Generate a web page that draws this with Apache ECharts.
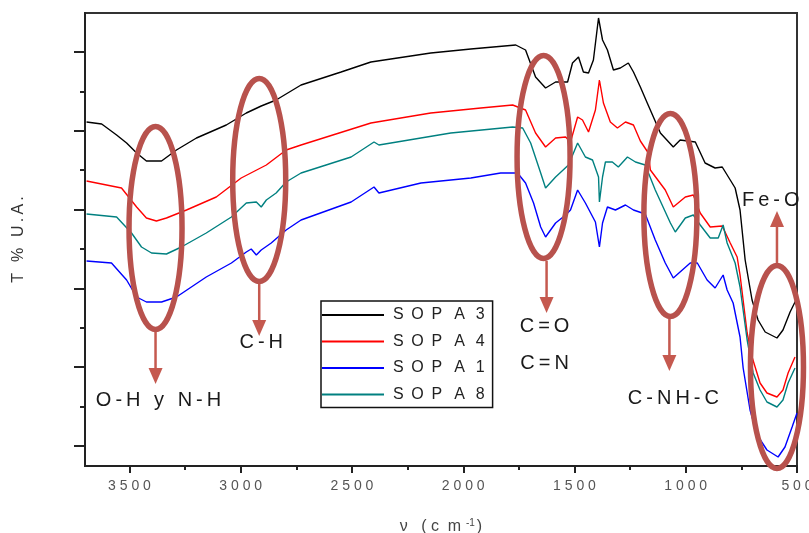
<!DOCTYPE html>
<html>
<head>
<meta charset="utf-8">
<script src="https://cdn.jsdelivr.net/npm/echarts@6/dist/echarts.min.js"></script>
<style>
html,body{margin:0;padding:0;background:#fff;}
#c{width:809px;height:533px;}
</style>
</head>
<body>
<div id="c"></div>
<script>
// ---- Data (wavenumber cm^-1, transmittance in arbitrary units) ----
const sopa3Wn = [3693,3625,3558,3513,3468,3424,3356,3289,3199,3065,2975,2908,2841,2729,2549,2415,2146,1966,1764,1720,1675,1630,1585,1531,1509,1482,1460,1437,1415,1397,1392,1374,1352,1325,1294,1258,1235,1204,1173,1114,1056,1025,957,913,868,836,800,778,756,733,702,675,643,590,563,531,500];
const sopa3T  = [344,342,331,323,313,305,305,316,328,341,353,360,366,381,394,404,413,417,421,416,389,378,384,384,403,409,394,393,406,439,448,426,416,396,398,403,394,379,363,333,319,326,324,303,298,299,286,278,256,206,166,146,134,128,136,154,168];

const sopa4Wn = [3693,3536,3468,3424,3379,3334,3244,3110,2998,2885,2796,2729,2415,2146,1921,1778,1720,1675,1630,1585,1540,1518,1486,1464,1437,1406,1388,1370,1339,1307,1271,1235,1204,1168,1159,1092,1056,1002,966,935,890,836,800,769,756,724,702,666,635,590,563,540,509];
const sopa4T  = [285,278,259,248,245,248,256,269,288,301,316,321,343,353,358,361,356,333,319,328,329,324,349,346,334,356,386,363,344,338,344,341,325,313,296,276,259,269,271,253,239,240,223,209,191,133,109,83,73,69,76,93,109];

const sopa1Wn = [3693,3581,3513,3468,3424,3356,3289,3155,3042,2975,2953,2930,2908,2863,2796,2729,2504,2401,2379,2190,1966,1832,1756,1720,1684,1652,1630,1585,1540,1518,1486,1451,1406,1388,1374,1352,1316,1271,1235,1182,1137,1092,1056,980,948,904,868,832,814,787,756,742,711,679,635,585,554,522,500];
const sopa1T  = [205,203,186,169,164,164,169,189,203,214,217,211,216,223,236,246,264,279,273,283,288,293,293,283,263,239,229,243,251,256,276,263,244,219,243,259,256,261,256,252,226,203,188,203,203,186,178,191,176,163,129,98,56,31,16,9,19,39,53];

const sopa8Wn = [3693,3558,3491,3446,3401,3334,3267,3155,3042,2975,2930,2908,2885,2841,2796,2729,2504,2401,2379,2325,2056,1778,1733,1697,1652,1630,1585,1527,1486,1451,1419,1392,1388,1374,1361,1330,1303,1262,1226,1182,1137,1069,1047,1002,966,935,890,854,832,814,778,756,724,697,666,635,590,563,540,509];
const sopa8T  = [252,249,233,219,213,212,219,233,249,263,264,259,266,273,284,293,309,324,321,323,333,339,338,323,293,278,289,301,323,309,306,289,264,289,304,304,299,309,304,301,276,243,234,248,251,241,228,228,241,223,203,179,126,93,76,64,59,66,83,98];

const seriesNames = ['SOPA3','SOPA4','SOPA1','SOPA8'];
const xMajorTicks = [3500,3000,2500,2000,1500,1000,500];
const xMinorTicks = [3250,2750,2250,1750,1250,750];
const yMajorTicks = [20,98.8,177.6,256.4,335.2,414];
const yMinorTicks = [59.4,138.2,217,295.8,374.6];

// band annotations
const bandLabels = ['O-H y N-H','C-H','C=O\nC=N','C-NH-C','Fe-O'];
const bandWn = [3383,2917,1639,1069,590];
const bandT  = [238,286,309,251,99];

const FONT = '"Liberation Sans", Arial, sans-serif';
const TH = '\u2009';
const spaced = s => s.split('').join(TH);
const zip = (a,b) => a.map((v,i)=>[v,b[i]]);
const legendText = n => {
  const c = n.split('');
  return c[0] + ' ' + TH + c[1] + ' ' + TH + c[2] + '  ' + TH + c[3] + ' ' + TH + TH + c[4];
};

const colors = ['#000000','#ff0000','#0000ff','#008080'];
const seriesData = [zip(sopa3Wn,sopa3T), zip(sopa4Wn,sopa4T), zip(sopa1Wn,sopa1T), zip(sopa8Wn,sopa8T)];

const chart = echarts.init(document.getElementById('c'), null, {renderer:'canvas'});
const option = {
  animation:false,
  backgroundColor:'#fff',
  grid:{left:85,right:12,top:13,bottom:67,show:true,borderColor:'#333',borderWidth:2,backgroundColor:'transparent',containLabel:false,outerBoundsMode:'none'},
  legend:{
    show:true, orient:'vertical', left:321, top:301,
    data:seriesNames,
    icon:'rect', itemWidth:62, itemHeight:2, itemGap:10.5,
    padding:[6,8,5,1],
    borderColor:'#111', borderWidth:1.5,
    formatter: legendText,
    textStyle:{fontFamily:FONT,fontSize:16,color:'#222',lineHeight:16,padding:[0,0,0,4]}
  },
  xAxis:[{
    type:'value', inverse:true, min:500, max:3700, position:'bottom',
    axisLine:{show:true,onZero:false,lineStyle:{color:'#222',width:2}},
    axisTick:{show:true,customValues:xMajorTicks,length:7,lineStyle:{color:'#222',width:2}},
    axisLabel:{show:true,customValues:xMajorTicks,formatter:v=>String(v).split('').join(' '),fontFamily:FONT,fontSize:14,color:'#555',margin:13},
    splitLine:{show:false},
    name:'{a|ν   ( c  m}{s| -1}{a|)}', nameLocation:'middle', nameGap:52,
    nameTextStyle:{rich:{a:{fontFamily:FONT,fontSize:16,color:'#444'},s:{fontFamily:FONT,fontSize:10,color:'#444',verticalAlign:'top',padding:[0,2,8,2]}}}
  },{
    type:'value', inverse:true, min:500, max:3700, position:'bottom', offset:0,
    axisLine:{show:false},
    axisTick:{show:true,customValues:xMinorTicks,length:4,lineStyle:{color:'#222',width:2}},
    axisLabel:{show:false}, splitLine:{show:false}
  }],
  yAxis:[{
    type:'value', min:0, max:453, position:'left',
    axisLine:{show:true,onZero:false,lineStyle:{color:'#222',width:2}},
    axisTick:{show:true,customValues:yMajorTicks,length:11,lineStyle:{color:'#222',width:2}},
    axisLabel:{show:false}, splitLine:{show:false},
    name:spaced('T % U.A.'), nameLocation:'middle', nameGap:58,
    nameTextStyle:{fontFamily:FONT,fontSize:16,color:'#333'}
  },{
    type:'value', min:0, max:453, position:'left', offset:0,
    axisLine:{show:false},
    axisTick:{show:true,customValues:yMinorTicks,length:5,lineStyle:{color:'#222',width:2}},
    axisLabel:{show:false}, splitLine:{show:false}
  }],
  series: seriesNames.map((n,i)=>({
    name:n, type:'line', xAxisIndex:0, yAxisIndex:0,
    data:seriesData[i], showSymbol:false, symbol:'none',
    lineStyle:{color:colors[i],width:1.4}, itemStyle:{color:colors[i]},
    z:2+i
  }))
};
chart.setOption(option);

// annotations anchored in data space
const RX = 26.5, RY = 101.5, ARROW = 52;
const ellColor = '#b8524d', arrColor = '#c5594f', txtColor = '#1a1a1a';
const arrowDx = [0,0,3,-1,0];
const labelOff = [[3,172],[2,162],[1,188],[3,183],[-35,-167]];
const g = [];
bandWn.forEach((wn,i)=>{
  const p = chart.convertToPixel({seriesIndex:0}, [wn, bandT[i]]);
  const cx = p[0], cy = p[1];
  g.push({type:'ellipse', shape:{cx:cx,cy:cy,rx:RX,ry:RY}, style:{fill:null,stroke:ellColor,lineWidth:5.5}, z:20});
  const up = (i === 4);
  const ax = cx + arrowDx[i];
  const y0 = up ? cy - RY - 2.5 : cy + RY + 2.5;
  const tip = up ? y0 - ARROW : y0 + ARROW;
  const headBase = up ? tip + 16 : tip - 16;
  g.push({type:'line', shape:{x1:ax,y1:y0,x2:ax,y2:headBase}, style:{stroke:arrColor,lineWidth:2.5}, z:21});
  g.push({type:'polygon', shape:{points:[[ax-7,headBase],[ax+7,headBase],[ax,tip]]}, style:{fill:arrColor}, z:21});
  const lines = bandLabels[i].split('\n');
  const lo = labelOff[i];
  const align = up ? 'left' : 'center';
  if (lines.length === 1) {
    g.push({type:'text', x:cx+lo[0], y:cy+lo[1], style:{text:spaced(lines[0]),fontFamily:FONT,fontSize:20,fill:txtColor,align:align,verticalAlign:'middle'}, z:22});
  } else {
    g.push({type:'text', x:cx+lo[0], y:cy+lo[1]-18.5, style:{text:spaced(lines[0]),fontFamily:FONT,fontSize:20,fill:txtColor,align:align,verticalAlign:'middle'}, z:22});
    g.push({type:'text', x:cx+lo[0], y:cy+lo[1]+18.5, style:{text:spaced(lines[1]),fontFamily:FONT,fontSize:20,fill:txtColor,align:align,verticalAlign:'middle'}, z:22});
  }
});
chart.setOption({graphic:g});
</script>
</body>
</html>
